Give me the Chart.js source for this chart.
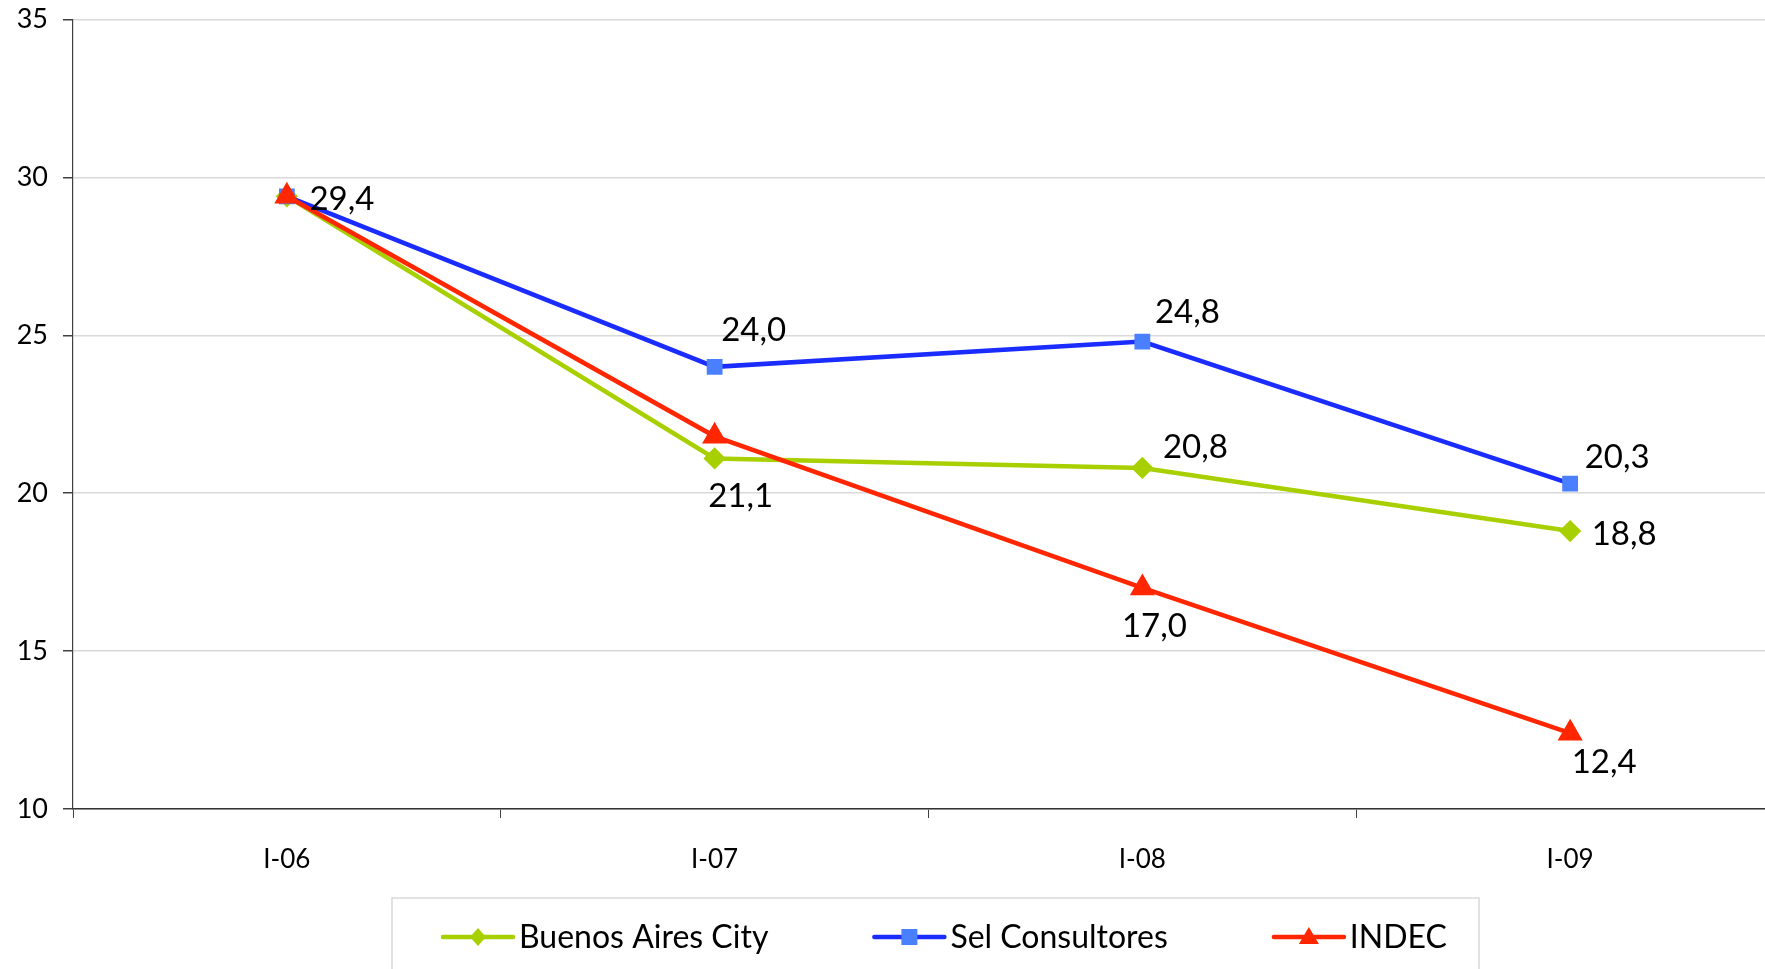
<!DOCTYPE html>
<html>
<head>
<meta charset="utf-8">
<script src="https://cdn.jsdelivr.net/npm/chart.js@4"></script>
<style>
  html, body { margin: 0; padding: 0; background: #fff; overflow: hidden; }
  #wrap { width: 1800px; height: 969px; position: relative; }
</style>
</head>
<body>
<div id="wrap"><canvas id="myChart"></canvas></div>
<script>
const categories = ['I-06', 'I-07', 'I-08', 'I-09'];
const buenosAires = [29.4, 21.1, 20.8, 18.8];
const selConsultores = [29.4, 24.0, 24.8, 20.3];
const indec = [29.4, 21.8, 17.0, 12.4];
const yTicks = [10, 15, 20, 25, 30, 35];

// which points carry a value label (null = no label)
const labelsBuenosAires = [null, '21,1', '20,8', '18,8'];
const labelsSel = ['29,4', '24,0', '24,8', '20,3'];
const labelsIndec = [null, null, '17,0', '12,4'];

const FONT = 'Lato, "Open Sans", sans-serif';

// label offsets from the point (pixels), per dataset
const labelOffsets = [
  [null, [26, 38], [53, -21], [54, 3]],
  [[55, 3], [39, -36], [45, -29], [47, -26]],
  [null, null, [12, 38], [34, 29]]
];

const valueLabels = {
  id: 'valueLabels',
  afterDatasetsDraw(chart) {
    const ctx = chart.ctx;
    ctx.save();
    ctx.font = '33px ' + FONT;
    ctx.fillStyle = '#000';
    ctx.textAlign = 'center';
    ctx.textBaseline = 'middle';
    chart.data.datasets.forEach((ds, i) => {
      const meta = chart.getDatasetMeta(i);
      meta.data.forEach((pt, j) => {
        const txt = ds.valueLabels[j];
        const off = labelOffsets[i][j];
        if (!txt || !off) return;
        ctx.fillText(txt, pt.x + off[0], pt.y + off[1]);
      });
    });
    ctx.restore();
  }
};

const boxLegend = {
  id: 'boxLegend',
  afterDraw(chart) {
    const ctx = chart.ctx;
    const boxLeft = 392, boxRight = 1479, boxTop = 898, textY = 937;
    ctx.save();
    ctx.strokeStyle = '#d9d9d9';
    ctx.lineWidth = 1.5;
    ctx.strokeRect(boxLeft, boxTop, boxRight - boxLeft, 100);
    ctx.font = '32px ' + FONT;
    ctx.textBaseline = 'middle';
    ctx.textAlign = 'left';
    const sample = 70, gapText = 6, gapItem = 106;
    const widths = chart.data.datasets.map(ds => sample + gapText + ctx.measureText(ds.label).width);
    let x = 443;
    chart.data.datasets.forEach((ds, i) => {
      ctx.strokeStyle = ds.borderColor;
      ctx.lineWidth = 4.5;
      ctx.lineCap = 'round';
      ctx.beginPath();
      ctx.moveTo(x, textY);
      ctx.lineTo(x + sample, textY);
      ctx.stroke();
      const cx = x + sample / 2;
      ctx.fillStyle = ds.pointBackgroundColor;
      ctx.beginPath();
      if (ds.pointStyle === 'rectRot') {
        ctx.moveTo(cx, textY - 9); ctx.lineTo(cx + 8, textY);
        ctx.lineTo(cx, textY + 9); ctx.lineTo(cx - 8, textY);
      } else if (ds.pointStyle === 'rect') {
        ctx.rect(cx - 8, textY - 8, 16, 16);
      } else {
        ctx.moveTo(cx, textY - 10); ctx.lineTo(cx + 10, textY + 7);
        ctx.lineTo(cx - 10, textY + 7);
      }
      ctx.closePath();
      ctx.fill();
      ctx.fillStyle = '#000';
      ctx.fillText(ds.label, x + sample + gapText, textY + 1);
      x += widths[i] + gapItem;
    });
    ctx.restore();
  }
};

const ctx = document.getElementById('myChart').getContext('2d');
new Chart(ctx, {
  type: 'line',
  data: {
    labels: categories,
    datasets: [
      {
        label: 'Buenos Aires City',
        data: buenosAires,
        valueLabels: labelsBuenosAires,
        borderColor: '#a8d000',
        backgroundColor: '#a8d000',
        pointBackgroundColor: '#a8d000',
        pointBorderColor: '#a8d000',
        pointStyle: 'rectRot',
        pointRadius: 8,
        borderWidth: 4.5,
        order: 3
      },
      {
        label: 'Sel Consultores',
        data: selConsultores,
        valueLabels: labelsSel,
        borderColor: '#1a2cff',
        backgroundColor: '#1a2cff',
        pointBackgroundColor: '#4a80ff',
        pointBorderColor: '#4a80ff',
        pointStyle: 'rect',
        pointRadius: 8,
        borderWidth: 4.5,
        order: 2
      },
      {
        label: 'INDEC',
        data: indec,
        valueLabels: labelsIndec,
        borderColor: '#ff2600',
        backgroundColor: '#ff2600',
        pointBackgroundColor: '#ff2600',
        pointBorderColor: '#ff2600',
        pointStyle: 'triangle',
        pointRadius: 10,
        borderWidth: 4.5,
        order: 1
      }
    ]
  },
  options: {
    responsive: true,
    maintainAspectRatio: false,
    animation: false,
    devicePixelRatio: 1,
    layout: { padding: { top: 10, right: 16, left: 0, bottom: 0 } },
    elements: { line: { tension: 0 } },
    plugins: {
      legend: { display: false },
      tooltip: { enabled: false }
    },
    scales: {
      x: {
        offset: true,
        grid: {
          offset: true,
          drawOnChartArea: false,
          drawTicks: true,
          tickLength: 9,
          color: '#404040'
        },
        border: { color: '#333', width: 1.5 },
        ticks: {
          color: '#000',
          font: { family: FONT, size: 26 },
          padding: 26
        },
        afterFit(scale) { scale.height = 160; }
      },
      y: {
        min: 10,
        max: 35,
        afterBuildTicks(scale) { scale.ticks = yTicks.map(v => ({ value: v })); },
        grid: {
          color: '#d9d9d9',
          lineWidth: 1.5,
          tickLength: 10,
          tickColor: '#404040'
        },
        border: { color: '#404040', width: 1.2 },
        ticks: {
          color: '#000',
          font: { family: FONT, size: 27, lineHeight: 0.33 },
          padding: 15
        },
        afterFit(scale) { scale.width = 73; }
      }
    }
  },
  plugins: [valueLabels, boxLegend]
});
</script>
</body>
</html>
